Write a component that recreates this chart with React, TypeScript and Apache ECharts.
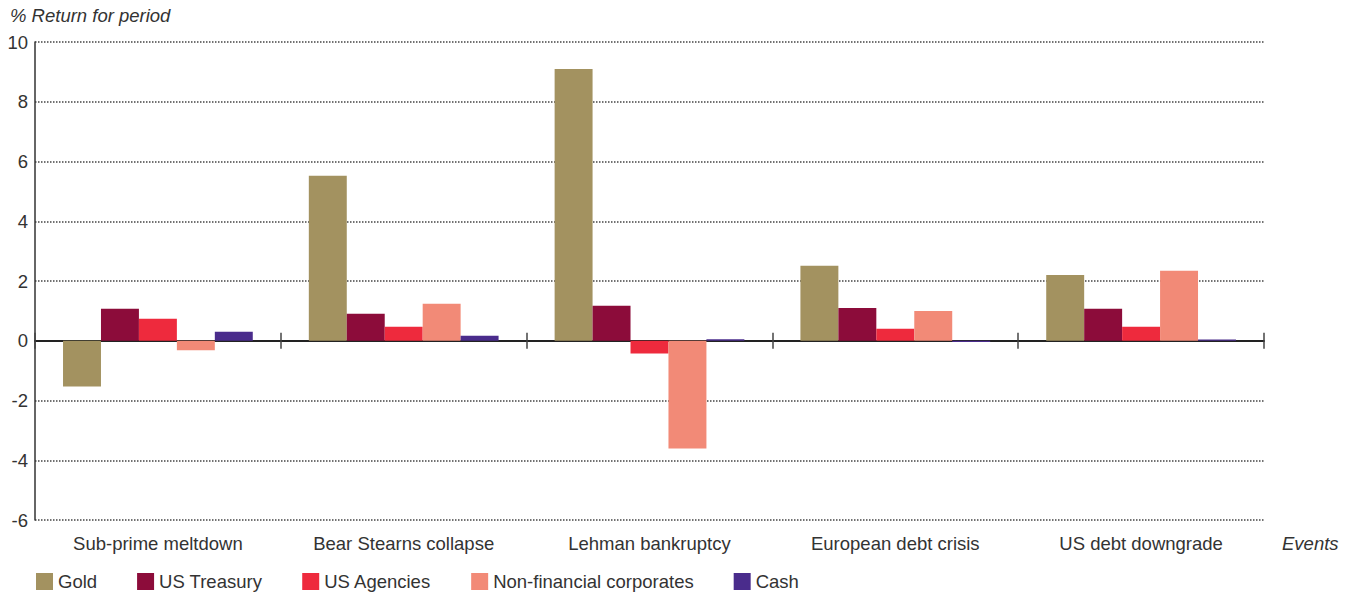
import React, { useEffect, useRef } from "react";
import * as echarts from "echarts";

const categories = [
  "Sub-prime meltdown",
  "Bear Stearns collapse",
  "Lehman bankruptcy",
  "European debt crisis",
  "US debt downgrade",
];
const seriesNames = ["Gold", "US Treasury", "US Agencies", "Non-financial corporates", "Cash"];
const gold = [-1.53, 5.52, 9.1, 2.51, 2.2];
const usTreasury = [1.07, 0.9, 1.17, 1.1, 1.07];
const usAgencies = [0.74, 0.47, -0.43, 0.4, 0.47];
const nonFinancial = [-0.32, 1.24, -3.61, 1.0, 2.34];
const cash = [0.3, 0.17, 0.05, -0.04, 0.04];
const yTicks = { min: -6, max: 10, interval: 2 };

const colors = ["#A39260", "#8C0C3A", "#EE2A3D", "#F28A77", "#4A2C8C"];
const FONT = "Liberation Sans";
const FS = 18.5;

export default function App() {
  const ref = useRef<HTMLDivElement>(null);
  useEffect(() => {
    if (!ref.current) return;
    const chart = echarts.init(ref.current, null, { renderer: "svg" });
    const values = [gold, usTreasury, usAgencies, nonFinancial, cash];
    const yBase = {
      type: "value",
      min: yTicks.min,
      max: yTicks.max,
      interval: yTicks.interval,
    };
    chart.setOption({
      animation: false,
      textStyle: { fontFamily: FONT },
      grid: { left: 35, right: 93, top: 42, bottom: 77, containLabel: false },
      legend: {
        left: 36,
        top: 572,
        padding: 0,
        itemWidth: 17,
        itemHeight: 17,
        itemGap: 40,
        icon: "rect",
        textStyle: { fontSize: FS, color: "#333", fontFamily: FONT },
        data: seriesNames,
      },
      xAxis: [
        {
          type: "category",
          data: categories,
          position: "bottom",
          axisLine: { show: false, onZero: false },
          axisTick: { show: false },
          axisLabel: { fontSize: FS, color: "#333", margin: 14, fontFamily: FONT },
          splitLine: { show: false },
        },
        {
          type: "category",
          data: categories,
          position: "bottom",
          axisLine: { show: true, onZero: true, onZeroAxisIndex: 0, lineStyle: { color: "#222", width: 2 } },
          axisTick: { show: true, length: 8, lineStyle: { color: "#444", width: 1.5 } },
          axisLabel: { show: false },
          splitLine: { show: false },
        },
        {
          type: "category",
          data: categories,
          position: "top",
          axisLine: { show: false, onZero: true, onZeroAxisIndex: 1 },
          axisTick: { show: true, inside: false, length: 8, lineStyle: { color: "#444", width: 1.5 } },
          axisLabel: { show: false },
          splitLine: { show: false },
        },
      ],
      yAxis: [
        {
          ...yBase,
          position: "left",
          axisLine: { show: true, onZero: false, lineStyle: { color: "#333", width: 1.5 } },
          axisTick: { show: false },
          axisLabel: { fontSize: FS, color: "#333", margin: 7, fontFamily: FONT },
          splitLine: { show: true, lineStyle: { type: [1.5, 1.5], color: "#444", width: 1.5 } },
        },
        {
          ...yBase,
          position: "right",
          axisLine: { show: false, onZero: false },
          axisTick: { show: false },
          axisLabel: { show: false },
          splitLine: { show: false },
        },
      ],
      graphic: [
        {
          type: "text",
          left: 10,
          top: 6,
          style: { text: "% Return for period", fontSize: FS, fontStyle: "italic", fill: "#333", fontFamily: FONT },
        },
        {
          type: "text",
          left: 1282,
          top: 534,
          style: { text: "Events", fontSize: FS, fontStyle: "italic", fill: "#333", fontFamily: FONT },
        },
      ],
      series: seriesNames.map((name, i) => ({
        name,
        type: "bar",
        xAxisIndex: 0,
        yAxisIndex: 0,
        data: values[i],
        barGap: "0%",
        barCategoryGap: "22.8%",
        itemStyle: { color: colors[i] },
        z: 1,
      })),
    });
    return () => chart.dispose();
  }, []);
  return (
    <div
      ref={ref}
      style={{ position: "fixed", left: 0, top: 0, width: 1357, height: 597, background: "#fff" }}
    />
  );
}
